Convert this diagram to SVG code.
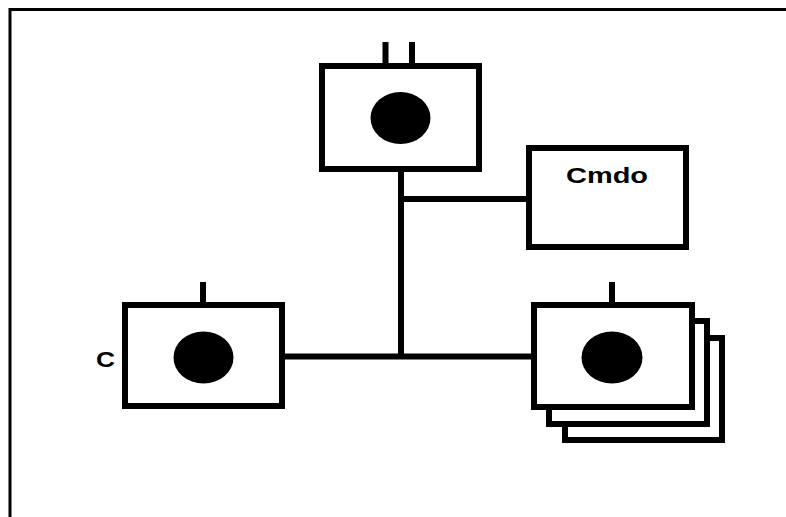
<svg xmlns="http://www.w3.org/2000/svg" width="786" height="517" viewBox="0 0 786 517">
<style>
.box{fill:#fff;stroke:#000;stroke-width:6}
.wire{stroke:#000;stroke-width:6;fill:none}
.dot{fill:#000}
.lbl{font-family:"Liberation Sans",Arial,sans-serif;font-weight:bold;font-size:22px;fill:#000}
</style>
<rect x="10" y="9.5" width="800" height="530" fill="none" stroke="#000" stroke-width="3"/>
<g id="connectors">
<line class="wire" x1="401" y1="170" x2="401" y2="359"/>
<line class="wire" x1="398" y1="199" x2="528" y2="199"/>
<line class="wire" x1="284" y1="356.5" x2="533" y2="356.5"/>
</g>
<g id="top">
<line class="wire" x1="385.5" y1="42" x2="385.5" y2="66"/>
<line class="wire" x1="412" y1="42" x2="412" y2="66"/>
<rect class="box" x="322" y="66" width="157" height="103"/>
<ellipse class="dot" cx="400.5" cy="118" rx="30" ry="26"/>
</g>
<g id="cmdo">
<rect class="box" x="529" y="148" width="157" height="99"/>
<text class="lbl" x="566" y="183" font-size="21" textLength="82" lengthAdjust="spacingAndGlyphs">Cmdo</text>
</g>
<g id="c">
<line class="wire" x1="203" y1="282" x2="203" y2="305"/>
<rect class="box" x="125" y="305" width="157" height="101"/>
<ellipse class="dot" cx="203.5" cy="357.5" rx="30" ry="26"/>
<text class="lbl" x="96" y="366.5" font-size="23" textLength="19" lengthAdjust="spacingAndGlyphs">C</text>
</g>
<g id="stack">
<rect class="box" x="565" y="338" width="157" height="102" stroke-width="5"/>
<rect class="box" x="549" y="321" width="158" height="103" stroke-width="5"/>
<line class="wire" x1="612" y1="282" x2="612" y2="305"/>
<rect class="box" x="534" y="305" width="158" height="102"/>
<ellipse class="dot" cx="612" cy="357.5" rx="30.5" ry="26"/>
</g>
</svg>
